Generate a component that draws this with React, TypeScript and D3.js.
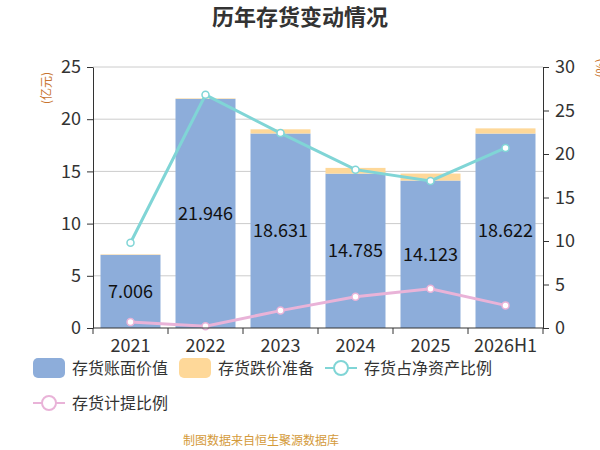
import React, { useEffect, useRef } from "react";
import * as d3 from "d3";

// --- Data
const categories = ["2021", "2022", "2023", "2024", "2025", "2026H1"];
const bookValue = [7.006, 21.946, 18.631, 14.785, 14.123, 18.622];
const reserve = [0.05, 0.05, 0.4, 0.55, 0.67, 0.5];
const netAssetRatio = [9.8, 26.8, 22.4, 18.2, 16.9, 20.7];
const provisionRatio = [0.7, 0.2, 2.0, 3.6, 4.5, 2.6];
const leftTicks = [0, 5, 10, 15, 20, 25];
const rightTicks = [0, 5, 10, 15, 20, 25, 30];

const FONT = "'Noto Sans CJK SC', 'Noto Sans', sans-serif";
const BLUE = "#8dadda";
const ORANGE = "#fed899";
const TEAL = "#80d5d6";
const PINK = "#e9b3d8";

const App: React.FC = () => {
  const ref = useRef<SVGSVGElement | null>(null);

  useEffect(() => {
    document.body.style.margin = "0";
    if (!ref.current) return;
    const width = 600;
    const height = 450;
    const margin = { top: 67, right: 57, bottom: 122, left: 93 };

    const svg = d3.select(ref.current);
    svg.selectAll("*").remove();
    svg.attr("width", width).attr("height", height).style("font-family", FONT);

    const x = d3
      .scaleBand<string>()
      .domain(categories)
      .range([margin.left, width - margin.right])
      .paddingInner(0.2)
      .paddingOuter(0.1);
    const yL = d3.scaleLinear().domain([0, 25]).range([height - margin.bottom, margin.top]);
    const yR = d3.scaleLinear().domain([0, 30]).range([height - margin.bottom, margin.top]);

    // Title
    svg
      .append("text")
      .attr("x", 300)
      .attr("y", 17)
      .attr("dy", "0.35em")
      .attr("text-anchor", "middle")
      .style("font-size", "22px")
      .style("font-weight", "bold")
      .style("fill", "#333")
      .text("历年存货变动情况");

    // Gridlines
    svg
      .append("g")
      .selectAll("line")
      .data(leftTicks.slice(1))
      .join("line")
      .attr("x1", margin.left)
      .attr("x2", width - margin.right)
      .attr("y1", (d) => yL(d))
      .attr("y2", (d) => yL(d))
      .attr("stroke", "#ccc")
      .attr("stroke-width", 1);

    // Bars
    const bars = svg.append("g");
    bars
      .selectAll("rect.book")
      .data(categories)
      .join("rect")
      .attr("class", "book")
      .attr("x", (d) => x(d)!)
      .attr("width", x.bandwidth())
      .attr("y", (_, i) => yL(bookValue[i]))
      .attr("height", (_, i) => yL(0) - yL(bookValue[i]))
      .attr("fill", BLUE);
    bars
      .selectAll("rect.reserve")
      .data(categories)
      .join("rect")
      .attr("class", "reserve")
      .attr("x", (d) => x(d)!)
      .attr("width", x.bandwidth())
      .attr("y", (_, i) => yL(bookValue[i] + reserve[i]))
      .attr("height", (_, i) => yL(bookValue[i]) - yL(bookValue[i] + reserve[i]))
      .attr("fill", ORANGE);

    // Bar labels
    bars
      .selectAll("text")
      .data(categories)
      .join("text")
      .attr("x", (d) => x(d)! + x.bandwidth() / 2)
      .attr("y", (_, i) => yL(bookValue[i] / 2))
      .attr("dy", "0.35em")
      .attr("text-anchor", "middle")
      .style("font-size", "18px")
      .style("fill", "#111")
      .text((_, i) => bookValue[i].toFixed(3));

    // Lines
    const drawLine = (values: number[], color: string) => {
      const line = d3
        .line<number>()
        .x((_, i) => x(categories[i])! + x.bandwidth() / 2)
        .y((d) => yR(d));
      const g = svg.append("g");
      g.append("path")
        .datum(values)
        .attr("d", line)
        .attr("fill", "none")
        .attr("stroke", color)
        .attr("stroke-width", 3);
      g.selectAll("circle")
        .data(values)
        .join("circle")
        .attr("cx", (_, i) => x(categories[i])! + x.bandwidth() / 2)
        .attr("cy", (d) => yR(d))
        .attr("r", 3.5)
        .attr("fill", "#fff")
        .attr("stroke", color)
        .attr("stroke-width", 1.5);
    };
    drawLine(netAssetRatio, TEAL);
    drawLine(provisionRatio, PINK);

    // Axes
    const styleAxis = (g: d3.Selection<SVGGElement, unknown, null, undefined>) => {
      g.selectAll("path, line").attr("stroke", "#333");
      g.selectAll("text").style("font-size", "18px").style("fill", "#333").style("font-family", FONT);
    };
    svg
      .append("g")
      .attr("transform", `translate(${margin.left},0)`)
      .call(d3.axisLeft(yL).tickValues(leftTicks).tickSize(6).tickSizeOuter(0).tickPadding(6))
      .call(styleAxis);
    svg
      .append("g")
      .attr("transform", `translate(${width - margin.right},0)`)
      .call(d3.axisRight(yR).tickValues(rightTicks).tickSize(6).tickSizeOuter(0).tickPadding(6))
      .call(styleAxis);
    const xAxis = svg
      .append("g")
      .attr("transform", `translate(0,${height - margin.bottom})`)
      .call(d3.axisBottom(x).tickSize(0).tickSizeOuter(0))
      .call(styleAxis);
    xAxis.select(".domain").attr("d", `M${margin.left},0H${width - margin.right}`);
    xAxis
      .selectAll("line.sep")
      .data(d3.range(categories.length + 1))
      .join("line")
      .attr("class", "sep")
      .attr("x1", (i) => margin.left + (i * (width - margin.left - margin.right)) / categories.length)
      .attr("x2", (i) => margin.left + (i * (width - margin.left - margin.right)) / categories.length)
      .attr("y1", 0)
      .attr("y2", 6)
      .attr("stroke", "#333");
    xAxis.selectAll(".tick text").attr("y", 18).attr("dy", "0.35em");

    // Unit labels
    svg
      .append("text")
      .attr("transform", "translate(47,88) rotate(-90)")
      .attr("text-anchor", "middle")
      .attr("dy", "0.35em")
      .style("font-size", "12px")
      .style("fill", "#c8742f")
      .text("(亿元)");
    svg
      .append("text")
      .attr("transform", "translate(601,68) rotate(-90)")
      .attr("text-anchor", "middle")
      .attr("dy", "0.35em")
      .style("font-size", "12px")
      .style("fill", "#c8742f")
      .text("(%)");

    // Legend
    const legend = [
      { label: "存货账面价值", color: BLUE, type: "rect", x: 33, y: 368 },
      { label: "存货跌价准备", color: ORANGE, type: "rect", x: 179, y: 368 },
      { label: "存货占净资产比例", color: TEAL, type: "line", x: 325, y: 368 },
      { label: "存货计提比例", color: PINK, type: "line", x: 33, y: 403 },
    ];
    const lg = svg.append("g");
    legend.forEach((d) => {
      if (d.type === "rect") {
        lg.append("rect")
          .attr("x", d.x)
          .attr("y", d.y - 10)
          .attr("width", 32)
          .attr("height", 20)
          .attr("rx", 5)
          .attr("fill", d.color);
      } else {
        lg.append("line")
          .attr("x1", d.x)
          .attr("x2", d.x + 32)
          .attr("y1", d.y)
          .attr("y2", d.y)
          .attr("stroke", d.color)
          .attr("stroke-width", 2);
        lg.append("circle")
          .attr("cx", d.x + 16)
          .attr("cy", d.y)
          .attr("r", 7)
          .attr("fill", "#fff")
          .attr("stroke", d.color)
          .attr("stroke-width", 2);
      }
      lg.append("text")
        .attr("x", d.x + 39)
        .attr("y", d.y)
        .attr("dy", "0.35em")
        .style("font-size", "16px")
        .style("fill", "#333")
        .text(d.label);
    });

    // Footer
    svg
      .append("text")
      .attr("x", 261)
      .attr("y", 441)
      .attr("text-anchor", "middle")
      .attr("dy", "0.35em")
      .style("font-size", "12px")
      .style("fill", "#d49a3a")
      .text("制图数据来自恒生聚源数据库");

    return () => {
      d3.select(ref.current).selectAll("*").remove();
    };
  }, []);

  return <svg ref={ref}></svg>;
};

export default App;
